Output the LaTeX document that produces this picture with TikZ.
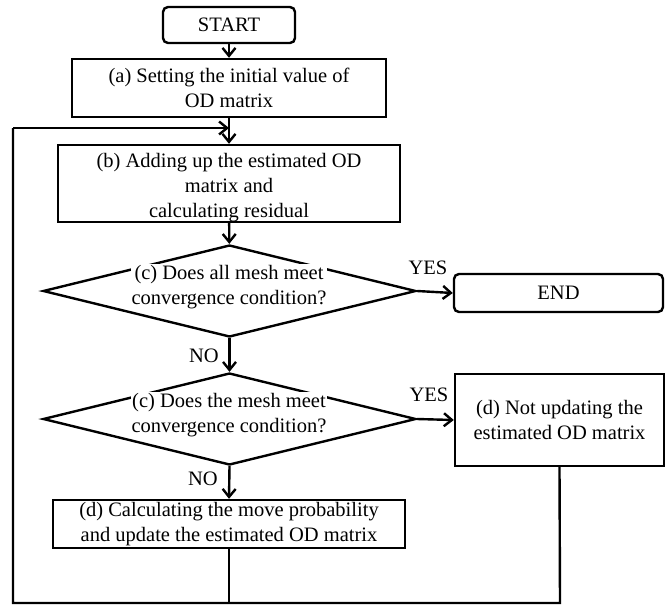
\documentclass[tikz,border=0pt]{standalone}
\usepackage{fontspec}
\setmainfont{Liberation Serif}
\usetikzlibrary{shapes.geometric,arrows.meta}
\begin{document}
\begin{tikzpicture}[x=1pt,y=-1pt,
  every node/.style={font=\fontsize{20.5}{25}\selectfont},
  box/.style={draw,line width=2.4pt,inner sep=0pt,align=center},
  rbox/.style={box,rounded corners=5pt},
  dia/.style={diamond,draw,line width=2.4pt,inner sep=0pt,minimum width=373pt,minimum height=92pt},
  dtext/.style={fill=white,inner sep=1pt,align=center},
  lbl/.style={inner sep=0pt},
  conn/.style={line width=2.4pt},
  arr/.style={conn,-{Straight Barb[length=8pt,width=13pt,line width=2.4pt]}}]
\useasboundingbox (0,0) rectangle (672,606);
\node[rbox,minimum width=132pt,minimum height=36pt] (start) at (229,25) {START};
\node[box,minimum width=314pt,minimum height=58pt] (a) at (229,88) {(a) Setting the initial value of\\OD matrix};
\node[box,minimum width=342pt,minimum height=77pt] (b) at (229,183.5) {};
\node[align=center,inner sep=0pt] (bt) at (229,188) {(b) Adding up the estimated OD\\matrix and\\calculating residual};
\node[dia] (c1) at (229.5,291) {};
\node[dtext] (c1t) at (229,287) {(c) Does all mesh meet\\convergence condition?};
\node[dia] (c2) at (229.5,419) {};
\node[dtext] (c2t) at (229,415) {(c) Does the mesh meet\\convergence condition?};
\node[rbox,minimum width=209pt,minimum height=38pt] (end) at (558.5,293) {END};
\node[box,minimum width=209pt,minimum height=92pt] (dnot) at (559.5,420) {(d) Not updating the\\estimated OD matrix};
\node[box,minimum width=352pt,minimum height=48pt] (dcalc) at (229,524) {(d) Calculating the move probability\\and update the estimated OD matrix};
\node[lbl] (yes1) at (428,268) {YES};
\node[lbl] (yes2) at (429,395) {YES};
\node[lbl] (no1) at (204,356) {NO};
\node[lbl] (no2) at (203,479) {NO};
\coordinate (join) at (229,128);
\coordinate (bl) at (13,603);
\coordinate (br) at (560,603);
\coordinate (tl) at (13,128);
\draw[arr] (start) -- (a);
\draw[arr] (a) -- (b);
\draw[arr] (b) -- (c1);
\draw[arr] (c1.east) -- (end.west);
\draw[arr] (c1.south) -- (c2.north);
\draw[arr] (c2.east) -- (dnot.west);
\draw[arr] (c2.south) -- (dcalc.north);
\draw[conn] (dcalc.south) -- (dcalc.south |- bl);
\draw[conn,line join=miter] (dnot.south) -- (br) -- (bl) -- (tl);
\draw[arr] (tl) -- (join);
\end{tikzpicture}
\end{document}
